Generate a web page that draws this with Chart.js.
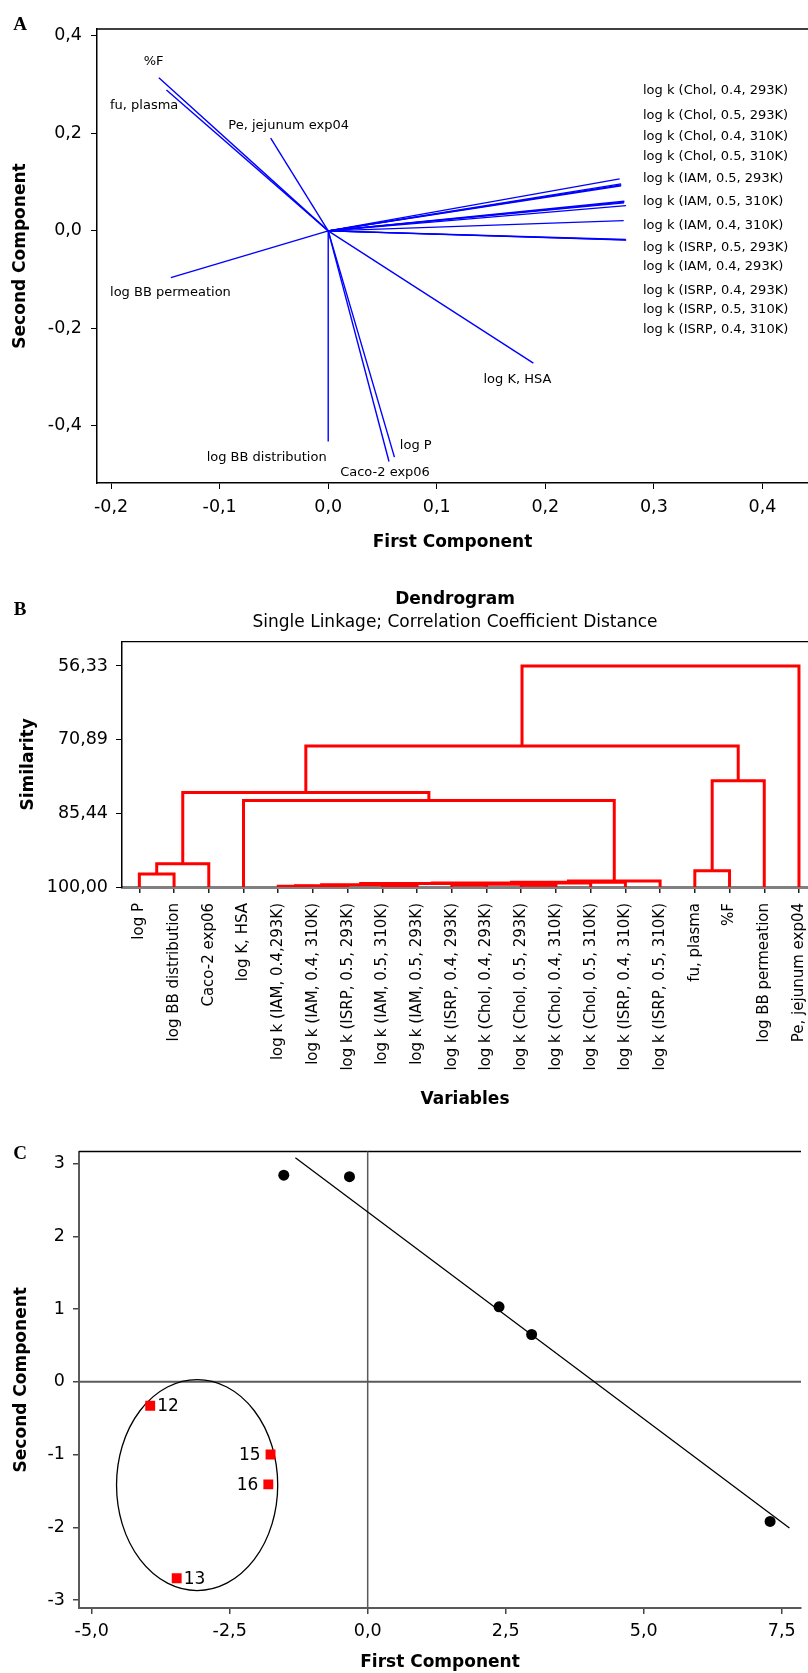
<!DOCTYPE html>
<html>
<head>
<meta charset="utf-8">
<title>PCA loadings, dendrogram and score plot</title>
<script src="https://cdn.jsdelivr.net/npm/chart.js@4.4.1/dist/chart.umd.min.js"></script>
<style>
  html, body { margin: 0; padding: 0; background: #fff; overflow: hidden; }
  #page { position: relative; width: 808px; height: 1673px; }
  .panel { position: absolute; left: 0; width: 808px; }
</style>
</head>
<body>
<div id="page">
  <div class="panel" style="top:0;height:560px"><canvas id="loadings"></canvas></div>
  <div class="panel" style="top:580px;height:530px"><canvas id="dendrogram"></canvas></div>
  <div class="panel" style="top:1110px;height:563px"><canvas id="scores"></canvas></div>
</div>
<script>
// ---- A: loadings of the variables on the first two components ----
const loadingNames = [
  '%F', 'fu, plasma', 'Pe, jejunum exp04', 'log BB permeation',
  'log BB distribution', 'Caco-2 exp06', 'log P', 'log K, HSA',
  'log k (Chol, 0.4, 293K)', 'log k (Chol, 0.5, 293K)', 'log k (Chol, 0.4, 310K)', 'log k (Chol, 0.5, 310K)',
  'log k (IAM, 0.5, 293K)', 'log k (IAM, 0.5, 310K)', 'log k (IAM, 0.4, 310K)', 'log k (ISRP, 0.5, 293K)',
  'log k (IAM, 0.4, 293K)', 'log k (ISRP, 0.4, 293K)', 'log k (ISRP, 0.5, 310K)', 'log k (ISRP, 0.4, 310K)'
];
const loadingPC1 = [
  -0.156, -0.149, -0.053, -0.145,
  0.000, 0.056, 0.061, 0.189,
  0.2685, 0.2698, 0.2700, 0.2698,
  0.2728, 0.2728, 0.2725, 0.2744,
  0.2722, 0.2744, 0.2740, 0.2745
];
const loadingPC2 = [
  0.314, 0.289, 0.190, -0.096,
  -0.432, -0.473, -0.464, -0.271,
  0.1067, 0.0964, 0.0944, 0.0925,
  0.0609, 0.0590, 0.0575, 0.0519,
  0.0211, -0.0185, -0.0175, -0.0190
];
const loadingTicksX = [-0.2, -0.1, 0.0, 0.1, 0.2, 0.3, 0.4];
const loadingTicksY = [-0.4, -0.2, 0.0, 0.2, 0.4];

// ---- B: single linkage dendrogram (hclust style: negative = leaf, positive = earlier step) ----
const leafNames = [
  'log P', 'log BB distribution', 'Caco-2 exp06', 'log K, HSA',
  'log k (IAM, 0.4,293K)', 'log k (IAM, 0.4, 310K)', 'log k (ISRP, 0.5, 293K)', 'log k (IAM, 0.5, 310K)',
  'log k (IAM, 0.5, 293K)', 'log k (ISRP, 0.4, 293K)', 'log k (Chol, 0.4, 293K)', 'log k (Chol, 0.5, 293K)',
  'log k (Chol, 0.4, 310K)', 'log k (Chol, 0.5, 310K)', 'log k (ISRP, 0.4, 310K)', 'log k (ISRP, 0.5, 310K)',
  'fu, plasma', '%F', 'log BB permeation', 'Pe, jejunum exp04'
];
const mergeLeft  = [-5, 1, -8, 2, -10, -12, 5, 4, 8, 9, 10, -1, 12, -4, 13, -17, 16, 15, 18];
const mergeRight = [-6, -7, -9, 3, -11, -13, 6, 7, -14, -15, -16, -2, -3, 11, 14, -18, -19, 17, -20];
const mergeSimilarity = [
  99.85, 99.75, 99.70, 99.55, 99.60, 99.65, 99.45, 99.30, 99.20, 99.05, 98.80,
  97.44, 95.40, 82.91, 81.33, 96.78, 79.02, 72.12, 56.33
];
const similarityTicks = [56.33, 70.89, 85.44, 100.00];

// ---- C: scores ----
const groupPC1 = [-1.52, -0.33, 2.38, 2.97, 7.29];
const groupPC2 = [2.84, 2.82, 1.03, 0.65, -1.92];
const markedIds = ['12', '13', '15', '16'];
const markedPC1 = [-3.94, -3.46, -1.76, -1.80];
const markedPC2 = [-0.33, -2.70, -1.00, -1.41];
const trendPC1 = [-1.31, 7.64];
const trendPC2 = [3.08, -2.01];
const ellipseCenter = [-3.09, -1.42];
const ellipseRadii = [1.46, 1.45];
const scoreTicksX = [-5.0, -2.5, 0.0, 2.5, 5.0, 7.5];
const scoreTicksY = [-3, -2, -1, 0, 1, 2, 3];

Chart.defaults.font.family = '"DejaVu Sans", Verdana, sans-serif';
Chart.defaults.color = '#000';
Chart.defaults.animation = false;
Chart.defaults.responsive = true;
Chart.defaults.maintainAspectRatio = false;
Chart.defaults.devicePixelRatio = 1;
Chart.defaults.events = [];
Chart.defaults.plugins.legend.display = false;
Chart.defaults.plugins.tooltip.enabled = false;

const comma = (v, d) => v.toFixed(d).replace('.', ',');
const tickFont = { size: 17.5 };
const titleFont = { size: 17, weight: 'bold' };

// fixed axis box so the plot area sits where it should
function fixBox(size) {
  return s => {
    if (s.isHorizontal()) s.height = size; else s.width = size;
    s.paddingLeft = s.paddingRight = s.paddingTop = s.paddingBottom = 0;
  };
}
const setTicks = list => s => { s.ticks = list.map(v => ({ value: v })); };

const topFrame = {
  id: 'topFrame',
  beforeDatasetsDraw(chart) {
    const { ctx, chartArea: a } = chart;
    ctx.save();
    ctx.strokeStyle = '#000';
    ctx.lineWidth = 1.3;
    ctx.beginPath();
    ctx.moveTo(a.left, a.top);
    ctx.lineTo(a.right, a.top);
    ctx.stroke();
    ctx.restore();
  }
};

function panelText(items) {
  return {
    id: 'panelText',
    afterDraw(chart) {
      const ctx = chart.ctx;
      ctx.save();
      ctx.fillStyle = '#000';
      items.forEach(t => {
        ctx.font = t.font;
        ctx.textAlign = t.align || 'center';
        ctx.textBaseline = t.baseline || 'middle';
        ctx.fillText(t.text, t.x, t.y);
      });
      ctx.restore();
    }
  };
}
const letterFont = 'bold 19px "Liberation Serif", "Times New Roman", serif';

// ---------------- A ----------------
// where each variable name is written, in axis units
const loadingLabelSpots = [
  [-0.170, 0.347], [-0.201, 0.256], [-0.092, 0.216], [-0.201, -0.127],
  [-0.112, -0.464], [0.011, -0.496], [0.066, -0.440], [0.143, -0.304],
  [0.290, 0.287], [0.290, 0.236], [0.290, 0.193], [0.290, 0.152],
  [0.290, 0.107], [0.290, 0.060], [0.290, 0.010], [0.290, -0.035],
  [0.290, -0.074], [0.290, -0.123], [0.290, -0.162], [0.290, -0.203]
];
const loadingLabels = {
  id: 'loadingLabels',
  afterDatasetsDraw(chart) {
    const { ctx, scales: { x, y } } = chart;
    ctx.save();
    ctx.font = '13px "DejaVu Sans", Verdana, sans-serif';
    ctx.fillStyle = '#000';
    ctx.textAlign = 'left';
    ctx.textBaseline = 'middle';
    loadingNames.forEach((name, i) => {
      const [lx, ly] = loadingLabelSpots[i];
      ctx.fillText(name, x.getPixelForValue(lx), y.getPixelForValue(ly));
    });
    ctx.restore();
  }
};

const axisGrid = { drawOnChartArea: false, drawTicks: true, tickLength: 6, color: '#000', lineWidth: 1 };

new Chart(document.getElementById('loadings'), {
  type: 'scatter',
  data: {
    datasets: loadingNames.map((name, i) => ({
      label: name,
      data: [{ x: 0, y: 0 }, { x: loadingPC1[i], y: loadingPC2[i] }],
      showLine: true,
      borderColor: '#0000ff',
      borderWidth: 1.4,
      pointRadius: 0
    }))
  },
  options: {
    layout: { padding: { top: 29, left: 0, right: 0, bottom: 0 } },
    scales: {
      x: {
        type: 'linear', min: -0.213, max: 0.442,
        afterBuildTicks: setTicks(loadingTicksX),
        afterFit: fixBox(77),
        ticks: { font: tickFont, padding: 8, maxRotation: 0, callback: v => comma(v, 1) },
        grid: axisGrid,
        border: { color: '#000', width: 1.5 },
        title: { display: true, text: 'First Component', font: titleFont, padding: { bottom: 7 } }
      },
      y: {
        type: 'linear', min: -0.517, max: 0.414,
        afterBuildTicks: setTicks(loadingTicksY),
        afterFit: fixBox(97),
        ticks: { font: tickFont, padding: 9, callback: v => comma(v, 1) },
        grid: axisGrid,
        border: { color: '#000', width: 1.5 },
        title: { display: true, text: 'Second Component', font: titleFont, padding: { top: 10 } }
      }
    }
  },
  plugins: [topFrame, loadingLabels, panelText([
    { text: 'A', x: 20, y: 30, font: letterFont, baseline: 'alphabetic' }
  ])]
});

// ---------------- B ----------------
function dendrogramLinks() {
  const nodeX = [], nodeS = [];
  const at = ref => ref < 0 ? { x: -ref, s: 100 } : { x: nodeX[ref - 1], s: nodeS[ref - 1] };
  return mergeLeft.map((l, i) => {
    const a = at(l), b = at(mergeRight[i]), s = mergeSimilarity[i];
    nodeX.push((a.x + b.x) / 2);
    nodeS.push(s);
    return [{ x: a.x, y: a.s }, { x: a.x, y: s }, { x: b.x, y: s }, { x: b.x, y: b.s }];
  });
}

new Chart(document.getElementById('dendrogram'), {
  type: 'scatter',
  data: {
    datasets: dendrogramLinks().map((pts, i) => ({
      label: 'step ' + (i + 1),
      data: pts,
      showLine: true,
      borderColor: '#ff0000',
      borderWidth: 3,
      borderJoinStyle: 'miter',
      pointRadius: 0
    }))
  },
  options: {
    layout: { padding: { top: 61.7, left: 0, right: 0, bottom: 0 } },
    scales: {
      x: {
        type: 'linear', min: 0.5, max: 20.26,
        afterBuildTicks: setTicks(leafNames.map((n, i) => i + 1)),
        afterFit: fixBox(223),
        ticks: {
          font: { size: 15 }, padding: 10, autoSkip: false, minRotation: 90, maxRotation: 90,
          callback: v => leafNames[v - 1]
        },
        grid: { drawOnChartArea: false, drawTicks: true, tickLength: 6, color: '#222', lineWidth: 1.5 },
        border: { color: '#808080', width: 3 },
        title: { display: true, text: 'Variables', font: titleFont, padding: { bottom: 0 } }
      },
      y: {
        type: 'linear', reverse: true, min: 51.53, max: 100,
        afterBuildTicks: setTicks(similarityTicks),
        afterFit: fixBox(122),
        ticks: { font: tickFont, padding: 8, callback: v => comma(v, 2) },
        grid: axisGrid,
        border: { color: '#000', width: 1.5 },
        title: { display: true, text: 'Similarity', font: titleFont, padding: { top: 18 } }
      }
    }
  },
  plugins: [topFrame, panelText([
    { text: 'B', x: 20, y: 35, font: letterFont, baseline: 'alphabetic' },
    { text: 'Dendrogram', x: 455, y: 20, font: 'bold 17px "DejaVu Sans", Verdana, sans-serif' },
    { text: 'Single Linkage; Correlation Coefficient Distance', x: 455, y: 43, font: '17px "DejaVu Sans", Verdana, sans-serif' }
  ])]
});

// ---------------- C ----------------
const scoreExtras = {
  id: 'scoreExtras',
  beforeDatasetsDraw(chart) {
    const { ctx, chartArea: a, scales: { x, y } } = chart;
    ctx.save();
    ctx.strokeStyle = '#5a5a5a';
    const x0 = x.getPixelForValue(0), y0 = y.getPixelForValue(0);
    ctx.lineWidth = 2;
    ctx.beginPath(); ctx.moveTo(a.left, y0); ctx.lineTo(a.right, y0); ctx.stroke();
    ctx.lineWidth = 1.5;
    ctx.beginPath(); ctx.moveTo(x0, a.top); ctx.lineTo(x0, a.bottom); ctx.stroke();
    const cx = x.getPixelForValue(ellipseCenter[0]), cy = y.getPixelForValue(ellipseCenter[1]);
    const rx = Math.abs(x.getPixelForValue(ellipseCenter[0] + ellipseRadii[0]) - cx);
    const ry = Math.abs(y.getPixelForValue(ellipseCenter[1] + ellipseRadii[1]) - cy);
    ctx.strokeStyle = '#000';
    ctx.lineWidth = 1.3;
    ctx.beginPath(); ctx.ellipse(cx, cy, rx, ry, 0, 0, Math.PI * 2); ctx.stroke();
    ctx.restore();
  },
  afterDatasetsDraw(chart) {
    const ctx = chart.ctx;
    const pts = chart.getDatasetMeta(1).data;
    ctx.save();
    ctx.font = '17px "DejaVu Sans", Verdana, sans-serif';
    ctx.fillStyle = '#000';
    ctx.textBaseline = 'middle';
    markedIds.forEach((id, i) => {
      const p = pts[i];
      const onLeft = markedPC1[i] > -2.5;
      ctx.textAlign = onLeft ? 'right' : 'left';
      ctx.fillText(id, p.x + (onLeft ? -10 : 7), p.y + 1);
    });
    ctx.restore();
  }
};

new Chart(document.getElementById('scores'), {
  type: 'scatter',
  data: {
    datasets: [
      {
        label: 'scores',
        data: groupPC1.map((v, i) => ({ x: v, y: groupPC2[i] })),
        pointStyle: 'circle', pointRadius: 5.5,
        backgroundColor: '#000', borderColor: '#000', borderWidth: 0
      },
      {
        label: 'marked',
        data: markedPC1.map((v, i) => ({ x: v, y: markedPC2[i] })),
        pointStyle: 'rect', pointRadius: 7,
        backgroundColor: '#ff0000', borderColor: '#ff0000', borderWidth: 0
      },
      {
        label: 'trend',
        data: trendPC1.map((v, i) => ({ x: v, y: trendPC2[i] })),
        showLine: true, pointRadius: 0,
        borderColor: '#000', borderWidth: 1.3
      }
    ]
  },
  options: {
    layout: { padding: { top: 41.5, left: 0, right: 0, bottom: 0 } },
    scales: {
      x: {
        type: 'linear', min: -5.23, max: 7.85,
        afterBuildTicks: setTicks(scoreTicksX),
        afterFit: fixBox(65),
        ticks: { font: tickFont, padding: 7, maxRotation: 0, callback: v => comma(v, 1) },
        grid: { drawOnChartArea: false, drawTicks: true, tickLength: 6, color: '#444', lineWidth: 1.5 },
        border: { color: '#5a5a5a', width: 2 },
        title: { display: true, text: 'First Component', font: titleFont, padding: { bottom: 0 } }
      },
      y: {
        type: 'linear', min: -3.11, max: 3.166,
        afterBuildTicks: setTicks(scoreTicksY),
        afterFit: fixBox(79),
        ticks: { font: tickFont, padding: 8, callback: v => v.toFixed(0) },
        grid: { drawOnChartArea: false, drawTicks: true, tickLength: 6, color: '#444', lineWidth: 1.5 },
        border: { color: '#5a5a5a', width: 2 },
        title: { display: true, text: 'Second Component', font: titleFont, padding: { top: 11 } }
      }
    }
  },
  plugins: [topFrame, scoreExtras, panelText([
    { text: 'C', x: 20, y: 49, font: letterFont, baseline: 'alphabetic' }
  ])]
});
</script>
</body>
</html>
